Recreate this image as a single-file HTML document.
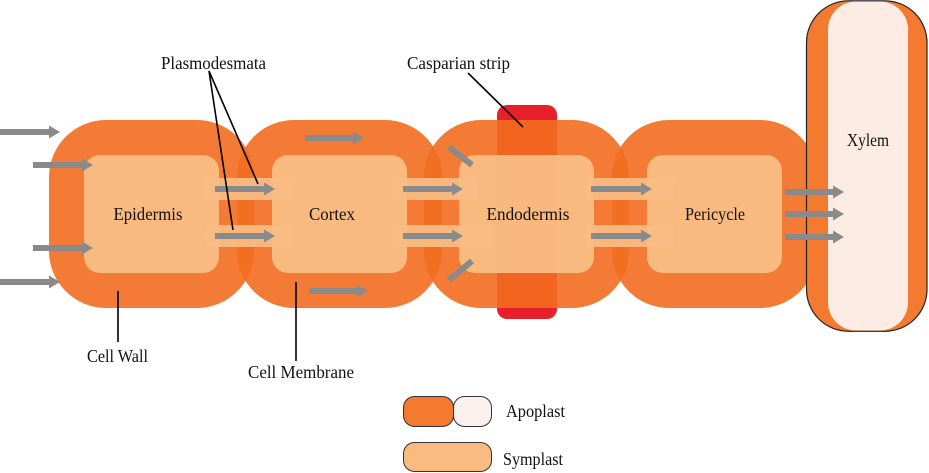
<!DOCTYPE html>
<html>
<head>
<meta charset="utf-8">
<style>
  html,body{margin:0;padding:0;background:#fff;}
  svg{display:block;}
  text{font-family:"Liberation Serif",serif;fill:#111;}
</style>
</head>
<body>
<svg width="929" height="473" viewBox="0 0 929 473" xmlns="http://www.w3.org/2000/svg">
  <!-- Casparian strip (under cells) -->
  <rect x="497" y="105" width="60" height="214" rx="10" ry="10" fill="#e8202a"/>

  <!-- Outer cell walls (apoplast) -->
  <g fill="#f26d1f" opacity="0.9">
    <rect x="49" y="120" width="205" height="188" rx="57" ry="57"/>
  </g>
  <g fill="#f26d1f" opacity="0.9">
    <rect x="237" y="120" width="205" height="188" rx="57" ry="57"/>
  </g>
  <g fill="#f26d1f" opacity="0.9">
    <rect x="424" y="120" width="205" height="188" rx="57" ry="57"/>
  </g>
  <g fill="#f26d1f" opacity="0.9">
    <rect x="612" y="120" width="205" height="188" rx="57" ry="57"/>
  </g>

  <!-- Inner symplast -->
  <g fill="#f9be84" opacity="0.95">
    <rect x="84" y="155" width="135" height="118" rx="16" ry="16"/>
    <rect x="272" y="155" width="135" height="118" rx="16" ry="16"/>
    <rect x="459" y="155" width="135" height="118" rx="16" ry="16"/>
    <rect x="647" y="155" width="135" height="118" rx="16" ry="16"/>
  </g>

  <!-- Plasmodesmata bands -->
  <g fill="#f9be84" opacity="0.92">
    <rect x="205" y="178" width="87" height="22"/>
    <rect x="205" y="225" width="87" height="22"/>
    <rect x="392" y="178" width="87" height="22"/>
    <rect x="392" y="225" width="100" height="22"/>
    <rect x="585" y="178" width="88" height="22"/>
    <rect x="585" y="225" width="88" height="22"/>
  </g>

  <!-- Xylem -->
  <rect x="806.5" y="0.8" width="120.5" height="330.5" rx="42" ry="42" fill="#f37a2f" stroke="#222" stroke-width="1.2"/>
  <rect x="828" y="1.5" width="80" height="329" rx="28" ry="28" fill="#fdece3"/>

  <!-- Arrows -->
  <g fill="#8a8a8a">
    <polygon points="0,129 49,129 49,125.5 60,132 49,138.5 49,135 0,135"/>
    <polygon points="33,162 82,162 82,158.5 93,165 82,171.5 82,168 33,168"/>
    <polygon points="33,245 82,245 82,241.5 93,248 82,254.5 82,251 33,251"/>
    <polygon points="0,279 49,279 49,275.5 60,282 49,288.5 49,285 0,285"/>
    <polygon points="215,186 264,186 264,182.5 275,189 264,195.5 264,192 215,192"/>
    <polygon points="215,233 264,233 264,229.5 275,236 264,242.5 264,239 215,239"/>
    <polygon points="305,135 353,135 353,131.5 364,138 353,144.5 353,141 305,141"/>
    <polygon points="309,288 357,288 357,284.5 368,291 357,297.5 357,294 309,294"/>
    <polygon points="403,186 452,186 452,182.5 463,189 452,195.5 452,192 403,192"/>
    <polygon points="403,233 452,233 452,229.5 463,236 452,242.5 452,239 403,239"/>
    <polygon points="591,186 641,186 641,182.5 652,189 641,195.5 641,192 591,192"/>
    <polygon points="591,233 641,233 641,229.5 652,236 641,242.5 641,239 591,239"/>
    <polygon points="785,189 833,189 833,185.5 844,192 833,198.5 833,195 785,195"/>
    <polygon points="785,211 833,211 833,207.5 844,214 833,220.5 833,217 785,217"/>
    <polygon points="785,234 833,234 833,230.5 844,237 833,243.5 833,240 785,240"/>
  </g>
  <g stroke="#8a8a8a" stroke-width="6" stroke-linecap="butt">
    <line x1="449" y1="147" x2="472" y2="165"/>
    <line x1="449" y1="280" x2="472" y2="261"/>
  </g>

  <!-- Leader lines -->
  <g stroke="#000" stroke-width="1.6" fill="none">
    <line x1="209" y1="71" x2="258" y2="184"/>
    <line x1="209" y1="71" x2="233" y2="230"/>
    <line x1="468" y1="73" x2="523" y2="127"/>
    <line x1="118" y1="291" x2="118" y2="342"/>
    <line x1="296" y1="282" x2="296" y2="361"/>
  </g>

  <!-- Labels -->
  <g font-size="17.5">
    <text x="148" y="220" text-anchor="middle" textLength="69" lengthAdjust="spacingAndGlyphs">Epidermis</text>
    <text x="332" y="220" text-anchor="middle" textLength="46" lengthAdjust="spacingAndGlyphs">Cortex</text>
    <text x="528" y="220" text-anchor="middle" textLength="83" lengthAdjust="spacingAndGlyphs">Endodermis</text>
    <text x="715" y="220" text-anchor="middle" textLength="60" lengthAdjust="spacingAndGlyphs">Pericycle</text>
    <text x="868" y="146" text-anchor="middle" textLength="42" lengthAdjust="spacingAndGlyphs">Xylem</text>
    <text x="161" y="69" textLength="105" lengthAdjust="spacingAndGlyphs">Plasmodesmata</text>
    <text x="407" y="69" textLength="103" lengthAdjust="spacingAndGlyphs">Casparian strip</text>
    <text x="87" y="362" textLength="61" lengthAdjust="spacingAndGlyphs">Cell Wall</text>
    <text x="248" y="378" textLength="106" lengthAdjust="spacingAndGlyphs">Cell Membrane</text>
    <text x="506" y="417" textLength="59" lengthAdjust="spacingAndGlyphs">Apoplast</text>
    <text x="503" y="465" textLength="60" lengthAdjust="spacingAndGlyphs">Symplast</text>
  </g>

  <!-- Legend -->
  <rect x="403.5" y="396.5" width="50" height="30" rx="11" ry="11" fill="#f37a2f" stroke="#333" stroke-width="1"/>
  <rect x="453.5" y="396.5" width="38" height="30" rx="11" ry="11" fill="#fdf1ee" stroke="#333" stroke-width="1"/>
  <rect x="403.5" y="442.5" width="88" height="29" rx="11" ry="11" fill="#f9bb80" stroke="#333" stroke-width="1"/>
</svg>
</body>
</html>
